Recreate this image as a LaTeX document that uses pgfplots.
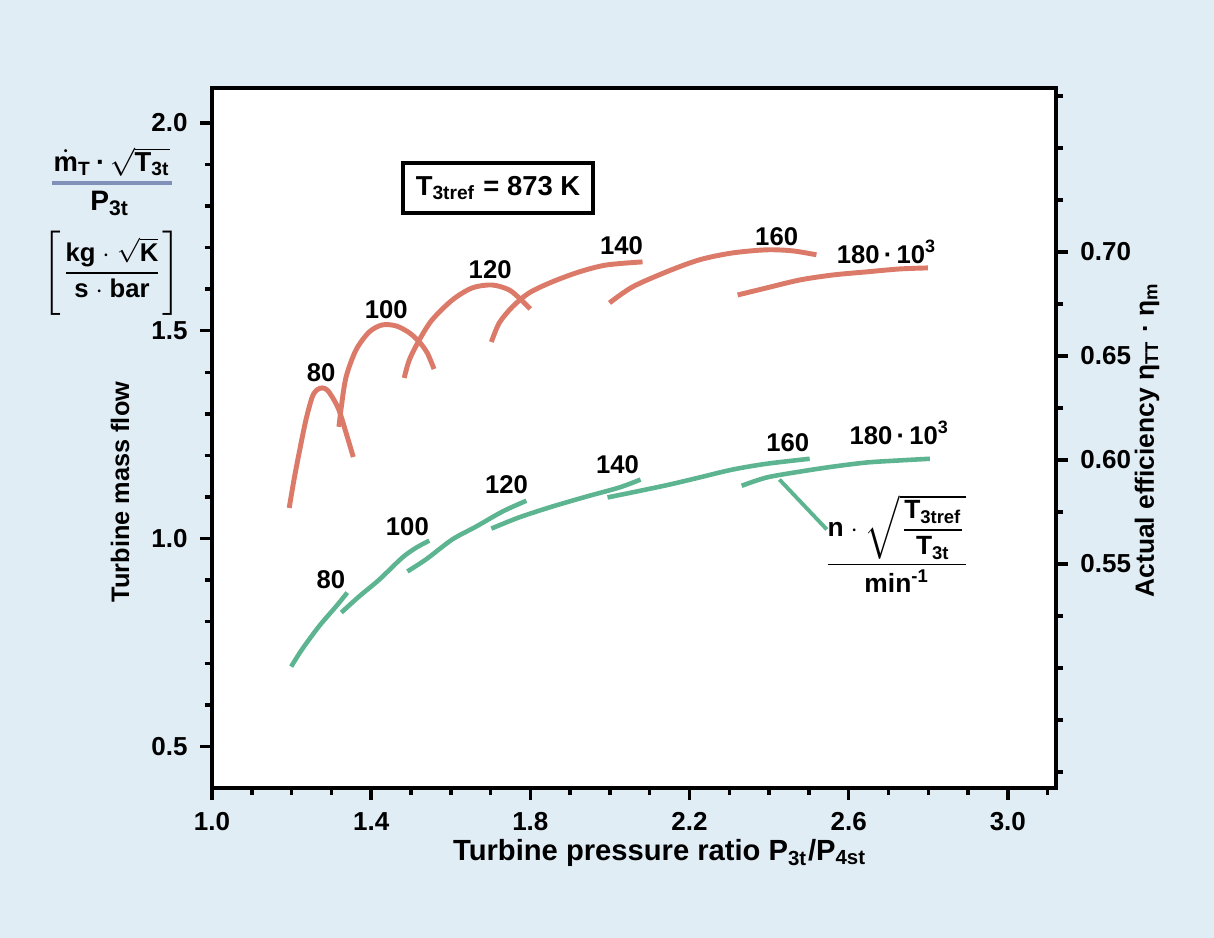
\documentclass[border=0pt]{standalone}
\usepackage{fontspec}
\setmainfont{Liberation Sans}
\setsansfont{Liberation Sans}
\usepackage{pgfplots}
\pgfplotsset{compat=1.18}
\definecolor{bgblue}{HTML}{E1EDF5}
\definecolor{effred}{HTML}{DC7A6A}
\definecolor{flowgreen}{HTML}{5CB590}
\definecolor{barblue}{HTML}{8090B8}

\tikzset{
  curvelab/.style={font=\bfseries\fontsize{7.3}{8}\selectfont, inner sep=0pt},
  px/.style={x=0.1mm, y=-0.1mm, shift={(0,93.8mm)}},
}
\pgfplotsset{
  mapaxis/.style={
    at={(21.2mm,15.0mm)}, anchor=south west,
    scale only axis, width=84.4mm, height=70mm,
    xmin=1.0, xmax=3.121,
    axis line style={line width=1.1pt},
    tick style={line width=1pt, black},
    tick align=outside,
    major tick length=3.4pt, minor tick length=2pt,
    /pgf/number format/assume math mode=true,
    tick label style={font=\bfseries\fontsize{7.4}{8}\selectfont},
    clip=false,
  },
}

\begin{document}
\begin{tikzpicture}
% page background, 1 unit = 1 px of the 1214x938 reference
\begin{scope}[px]
  \fill[bgblue] (0,0) rectangle (1214,938);
\end{scope}

% left axis: mass flow (green)
\begin{axis}[mapaxis,
  ymin=0.40, ymax=2.084,
  axis background/.style={fill=white},
  xtick pos=left, ytick pos=left,
  xtick={1.0,1.4,1.8,2.2,2.6,3.0},
  minor xtick={1.1,1.2,1.3,1.5,1.6,1.7,1.9,2.0,2.1,2.3,2.4,2.5,2.7,2.8,2.9,3.1},
  ytick={0.5,1.0,1.5,2.0},
  minor ytick={0.6,0.7,0.8,0.9,1.1,1.2,1.3,1.4,1.6,1.7,1.8,1.9},
  xticklabel style={/pgf/number format/.cd, fixed, fixed zerofill, precision=1},
  yticklabel style={/pgf/number format/.cd, fixed, fixed zerofill, precision=1},
]
\addplot[flowgreen, line width=1.3pt, smooth] coordinates {
  (1.199,0.692) (1.226,0.733) (1.269,0.789) (1.312,0.837) (1.340,0.870)};
\addplot[flowgreen, line width=1.3pt, smooth] coordinates {
  (1.325,0.822) (1.370,0.861) (1.420,0.901) (1.478,0.954) (1.513,0.978) (1.546,0.995)};
\addplot[flowgreen, line width=1.3pt, smooth] coordinates {
  (1.491,0.921) (1.538,0.950) (1.604,0.998) (1.664,1.029) (1.730,1.065) (1.790,1.091)};
\addplot[flowgreen, line width=1.3pt, smooth] coordinates {
  (1.702,1.024) (1.772,1.051) (1.855,1.077) (1.941,1.101) (2.024,1.123) (2.077,1.142)};
\addplot[flowgreen, line width=1.3pt, smooth] coordinates {
  (1.994,1.099) (2.066,1.113) (2.150,1.130) (2.225,1.147) (2.308,1.166) (2.394,1.180) (2.502,1.192)};
\addplot[flowgreen, line width=1.3pt, smooth] coordinates {
  (2.331,1.127) (2.394,1.147) (2.477,1.161) (2.560,1.173) (2.645,1.183) (2.728,1.188) (2.804,1.192)};
\draw[flowgreen, line width=1.1pt] (axis cs:2.426,1.142) -- (axis cs:2.545,1.022);

% speed labels
\node[curvelab] at (axis cs:1.274,1.399) {80};
\node[curvelab] at (axis cs:1.438,1.551) {100};
\node[curvelab] at (axis cs:1.699,1.647) {120};
\node[curvelab] at (axis cs:2.029,1.704) {140};
\node[curvelab] at (axis cs:2.419,1.726) {160};
\node[curvelab] at (axis cs:2.696,1.690) {180\,·\,10\textsuperscript{3}};
\node[curvelab] at (axis cs:1.299,0.901) {80};
\node[curvelab] at (axis cs:1.491,1.029) {100};
\node[curvelab] at (axis cs:1.740,1.130) {120};
\node[curvelab] at (axis cs:2.019,1.178) {140};
\node[curvelab] at (axis cs:2.447,1.231) {160};
\node[curvelab] at (axis cs:2.728,1.255) {180\,·\,10\textsuperscript{3}};
\end{axis}

% right axis: efficiency (red)
\begin{axis}[mapaxis,
  ymin=0.4423, ymax=0.7788,
  axis x line=none, axis y line*=right,
  ytick pos=right, yticklabel pos=right,
  ytick={0.55,0.60,0.65,0.70},
  minor ytick={0.45,0.475,0.5,0.525,0.575,0.625,0.675,0.725,0.75,0.775},
  yticklabel style={/pgf/number format/.cd, fixed, fixed zerofill, precision=2},
]
\addplot[effred, line width=1.4pt, smooth] coordinates {
  (1.194,0.5769) (1.206,0.5904) (1.219,0.6034) (1.236,0.6192) (1.252,0.6303) (1.264,0.6337)
  (1.277,0.6346) (1.289,0.6337) (1.302,0.6303) (1.319,0.6240) (1.337,0.6130) (1.355,0.6014)};
\addplot[effred, line width=1.4pt, smooth] coordinates {
  (1.319,0.6159) (1.325,0.6255) (1.337,0.6399) (1.362,0.6529) (1.395,0.6615) (1.428,0.6649)
  (1.463,0.6644) (1.496,0.6611) (1.521,0.6567) (1.541,0.6514) (1.558,0.6437)};
\addplot[effred, line width=1.4pt, smooth] coordinates {
  (1.483,0.6394) (1.496,0.6481) (1.521,0.6577) (1.553,0.6673) (1.604,0.6769) (1.654,0.6827)
  (1.704,0.6841) (1.747,0.6817) (1.777,0.6769) (1.800,0.6726)};
\addplot[effred, line width=1.4pt, smooth] coordinates {
  (1.702,0.6567) (1.722,0.6659) (1.755,0.6736) (1.797,0.6803) (1.855,0.6856) (1.923,0.6904)
  (1.991,0.6937) (2.082,0.6952)};
\addplot[effred, line width=1.4pt, smooth] coordinates {
  (1.999,0.6755) (2.057,0.6832) (2.142,0.6904) (2.225,0.6962) (2.308,0.6995) (2.394,0.7010)
  (2.459,0.7005) (2.519,0.6986)};
\addplot[effred, line width=1.4pt, smooth] coordinates {
  (2.321,0.6793) (2.394,0.6827) (2.477,0.6865) (2.560,0.6889) (2.645,0.6904) (2.728,0.6918)
  (2.799,0.6923)};
\end{axis}

% texts around the axes, placed in reference pixels
\begin{scope}[px]
  \node[font=\bfseries\fontsize{8.3}{9}\selectfont] at (660,853)
    {Turbine pressure ratio P\textsubscript{3t}/P\textsubscript{4st}};
  \node[rotate=90, font=\bfseries\fontsize{7.2}{8}\selectfont] at (120,492)
    {Turbine mass flow};
  \node[rotate=90, font=\bfseries\fontsize{7.5}{8}\selectfont] at (1147,440)
    {Actual efficiency η\textsubscript{TT} · η\textsubscript{m}};
  % unit label of the left axis
  \node[font=\bfseries\fontsize{7.8}{9}\selectfont, inner sep=0pt] at (112,162)
    {$\dot{\mbox{m}}$\textsubscript{T}\,·\,$\sqrt{\mbox{T\textsubscript{3t}}}$};
  \draw[barblue, line width=1.2pt] (52,183) -- (172,183);
  \node[font=\bfseries\fontsize{8}{9}\selectfont, inner sep=0pt] at (110,203) {P\textsubscript{3t}};
  \node[font=\bfseries\fontsize{7.3}{8}\selectfont, inner sep=0pt] at (112,273)
    {$\left[\displaystyle\frac{\mbox{kg}\cdot\sqrt{\mbox{K}}}{\mbox{s}\cdot\mbox{bar}}\right]$};
  % reference temperature box
  \node[draw, line width=1pt, fill=white, minimum width=19mm, minimum height=5mm,
        font=\bfseries\fontsize{7.8}{9}\selectfont] at (498,188)
    {T\textsubscript{3tref} = 873 K};
  % speed parameter
  \node[font=\bfseries\fontsize{7.5}{8}\selectfont] at (897,544)
    {$\displaystyle\frac{\mbox{n}\cdot\sqrt{\displaystyle\frac{\mbox{T\textsubscript{3tref}}}{\mbox{T\textsubscript{3t}}}}}{\mbox{min\textsuperscript{-1}}}$};
\end{scope}
\end{tikzpicture}
\end{document}
